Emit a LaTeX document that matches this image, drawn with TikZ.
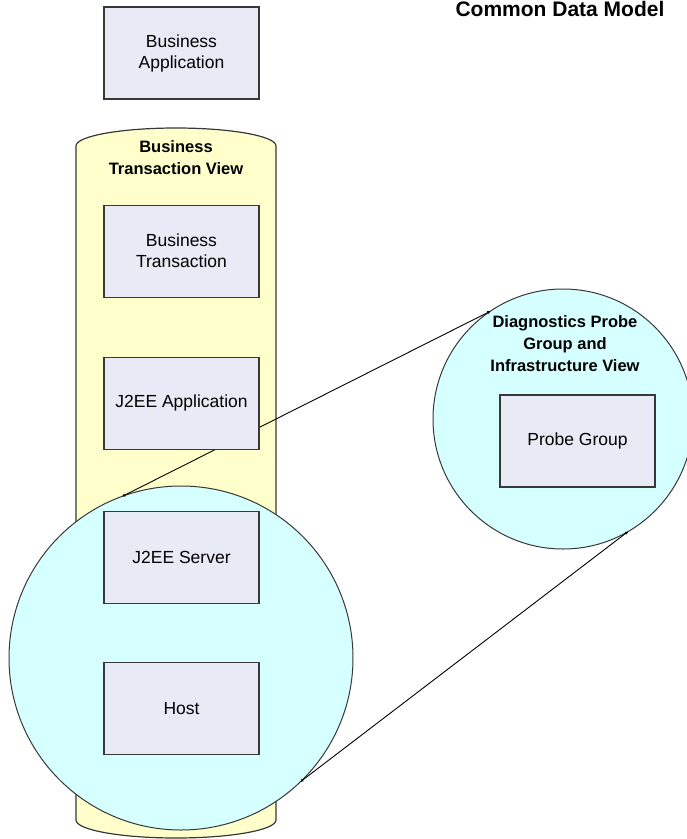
\documentclass[tikz,border=0pt]{standalone}
\usepackage{fontspec}
\setmainfont{Liberation Sans}
\usetikzlibrary{positioning,arrows.meta}
\definecolor{BoxFill}{RGB}{232,235,245}
\definecolor{EdgeGray}{RGB}{56,56,56}
\definecolor{ViewYellow}{RGB}{255,255,204}
\definecolor{ViewCyan}{RGB}{214,255,255}
\tikzset{
  entity/.style={draw=EdgeGray,fill=BoxFill,line width=1.2pt,
    minimum width=155pt,minimum height=92pt,align=center,
    font=\fontsize{17.5}{21}\selectfont},
  viewlabel/.style={align=center,font=\fontsize{16.5}{22}\selectfont\bfseries},
  lens/.style={circle,draw=EdgeGray,fill=ViewCyan,line width=1pt,
    inner sep=0pt,outer sep=0pt},
  zoomline/.style={{Straight Barb[length=0.7mm,width=0.8mm]}-{Straight Barb[length=0.7mm,width=0.8mm]},
    line width=0.9pt,draw=black}
}
\begin{document}
\begin{tikzpicture}[x=1pt,y=-1pt]
  \useasboundingbox (0,0) rectangle (687,839);
  \node[anchor=base,font=\fontsize{21}{25}\selectfont\bfseries] (title) at (560,16) {Common Data Model};

  % business transaction view (cylinder)
  \draw[draw=EdgeGray,fill=ViewYellow,line width=1.2pt]
    (76,146) arc[start angle=180,end angle=0,x radius=100pt,y radius=18pt]
    -- (276,820) arc[start angle=0,end angle=-180,x radius=100pt,y radius=18pt] -- cycle;
  \node[viewlabel] (bizview) at (176,158) {Business\\Transaction View};

  % infrastructure lens and the probe group lens
  \node[lens,minimum size=344pt] (hostview) at (181,658) {};
  \node[lens,minimum size=260pt] (probeview) at (563,419) {};
  \draw[zoomline] (hostview.110.5) -- (probeview.124.6);
  \draw[zoomline] (hostview.-46.2) -- (probeview.-60.7);
  \node[viewlabel] (probelabel) at (565,344) {Diagnostics Probe\\Group and\\Infrastructure View};

  \node[entity] (bizapp) at (181.5,53) {Business\\Application};
  \node[entity,below=105pt of bizapp] (bizxact) {Business\\Transaction};
  \node[entity,below=59pt of bizxact] (j2eeapp) {J2EE Application};
  \node[entity,below=61pt of j2eeapp] (j2eesrv) {J2EE Server};
  \node[entity,below=58pt of j2eesrv] (host) {Host};
  \node[entity] (probegrp) at (577.5,441) {Probe Group};
\end{tikzpicture}
\end{document}
